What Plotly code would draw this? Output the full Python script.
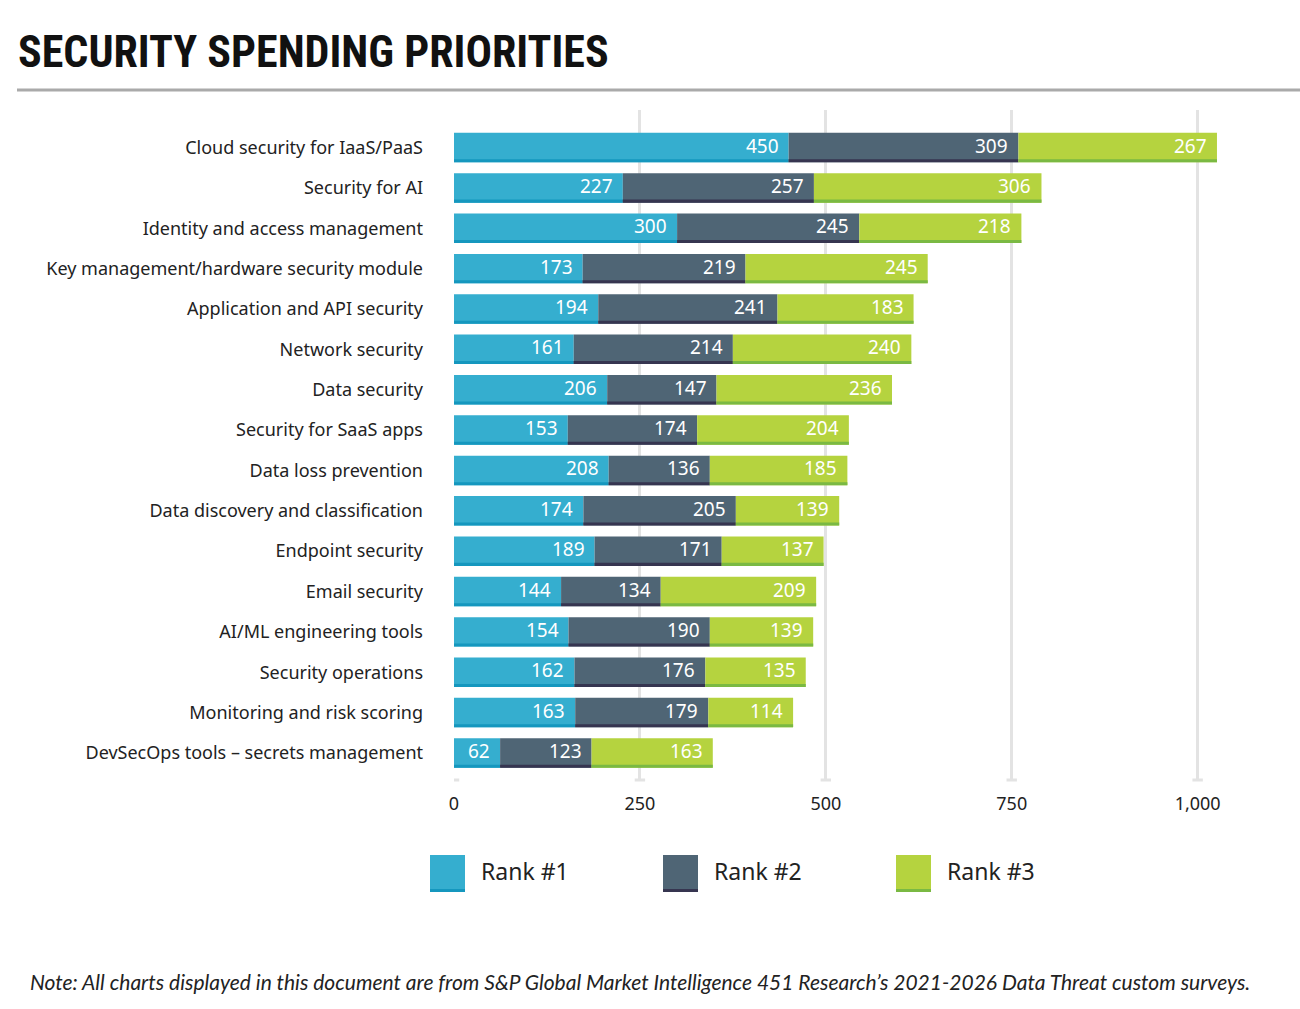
import plotly.graph_objects as go

categories = [
    "Cloud security for IaaS/PaaS",
    "Security for AI",
    "Identity and access management",
    "Key management/hardware security module",
    "Application and API security",
    "Network security",
    "Data security",
    "Security for SaaS apps",
    "Data loss prevention",
    "Data discovery and classification",
    "Endpoint security",
    "Email security",
    "AI/ML engineering tools",
    "Security operations",
    "Monitoring and risk scoring",
    "DevSecOps tools \u2013 secrets management",
]
rank1 = [450, 227, 300, 173, 194, 161, 206, 153, 208, 174, 189, 144, 154, 162, 163, 62]
rank2 = [309, 257, 245, 219, 241, 214, 147, 174, 136, 205, 171, 134, 190, 176, 179, 123]
rank3 = [267, 306, 218, 245, 183, 240, 236, 204, 185, 139, 137, 209, 139, 135, 114, 163]
series_names = ["Rank #1", "Rank #2", "Rank #3"]
tick_vals = [0, 250, 500, 750, 1000]
tick_text = ["0", "250", "500", "750", "1,000"]

colors = ["#35AECF", "#4F6575", "#B5D33F"]
edge_colors = ["#1597BE", "#363550", "#7AB943"]

W, H = 1300, 1009
ML, MR, MT, MB = 454, 28, 110, 229
XMAX = 1100

fig = go.Figure()
series = [rank1, rank2, rank3]
bases = [[0] * len(categories)]
for s in series[:-1]:
    bases.append([b + v for b, v in zip(bases[-1], s)])

BW = 0.73
EW = 0.075
for i, s in enumerate(series):
    fig.add_trace(go.Bar(
        y=categories, x=s, base=bases[i], orientation="h",
        marker=dict(color=colors[i], line=dict(width=0)),
        width=BW, offset=-BW / 2, name=series_names[i],
        showlegend=False, hoverinfo="x+name",
    ))
    fig.add_trace(go.Bar(
        y=categories, x=s, base=bases[i], orientation="h",
        marker=dict(color=edge_colors[i], line=dict(width=0)),
        width=EW, offset=BW / 2 - EW, showlegend=False, hoverinfo="skip",
    ))
    for c, v, b in zip(categories, s, bases[i]):
        fig.add_annotation(
            x=b + v, y=c, text=str(v), showarrow=False, xanchor="right",
            xshift=-8, yshift=2,
            font=dict(family="Noto Sans", size=19, color="white"),
        )

# tick caps at bottom of gridlines
for v in tick_vals:
    fig.add_shape(type="line", xref="x", yref="paper", x0=v - 7, x1=v + 7,
                  y0=0, y1=0, line=dict(color="#e3e3e3", width=3), layer="below")

PW = W - ML - MR
PH = H - MT - MB
def px(xp):
    return (xp - ML) / PW
def py(yp):
    return 1 - (yp - MT) / PH

# title and rule
fig.add_annotation(
    xref="paper", yref="paper", x=px(16), y=py(52),
    text="<b>SECURITY SPENDING PRIORITIES</b>", showarrow=False, xanchor="left", yanchor="middle",
    font=dict(family="Liberation Sans Narrow, Roboto Condensed, Roboto", size=44, color="#111"),
)
fig.add_shape(type="line", xref="paper", yref="paper",
              x0=px(17), x1=px(1300), y0=py(90), y1=py(90),
              line=dict(color="#aaaaaa", width=3))

# manual legend
leg_x = [430, 663, 896]
for i, name in enumerate(series_names):
    x0 = leg_x[i]
    fig.add_shape(type="rect", xref="paper", yref="paper", x0=px(x0), x1=px(x0 + 35),
                  y0=py(892), y1=py(855), fillcolor=colors[i], line=dict(width=0))
    fig.add_shape(type="rect", xref="paper", yref="paper", x0=px(x0), x1=px(x0 + 35),
                  y0=py(892), y1=py(889), fillcolor=edge_colors[i], line=dict(width=0))
    fig.add_annotation(xref="paper", yref="paper", x=px(x0 + 49), y=py(871), text=name,
                       showarrow=False, xanchor="left", yanchor="middle",
                       font=dict(family="Noto Sans", size=23, color="#222"))

# note
fig.add_annotation(
    xref="paper", yref="paper", x=px(28), y=py(982),
    text="<i>Note: All charts displayed in this document are from S&P Global Market Intelligence 451 Research\u2019s 2021-2026 Data Threat custom surveys.</i>",
    showarrow=False, xanchor="left", yanchor="middle",
    font=dict(family="Lato", size=21, color="#222"),
)

fig.update_layout(
    width=W, height=H, barmode="overlay",
    margin=dict(l=ML, r=MR, t=MT, b=MB),
    plot_bgcolor="white", paper_bgcolor="white",
    showlegend=False,
    xaxis=dict(range=[0, XMAX], tickvals=tick_vals, ticktext=tick_text,
               showgrid=True, gridcolor="#e3e3e3", gridwidth=3, zeroline=False,
               showline=False, ticks="", ticklabelstandoff=11,
               tickfont=dict(family="Noto Sans", size=18, color="#222")),
    yaxis=dict(range=[15.67, -0.93], type="category", showgrid=False, zeroline=False,
               showline=False, ticks="", ticklabelstandoff=30,
               tickfont=dict(family="Noto Sans", size=18, color="#222")),
)

fig.write_html("out.html")
